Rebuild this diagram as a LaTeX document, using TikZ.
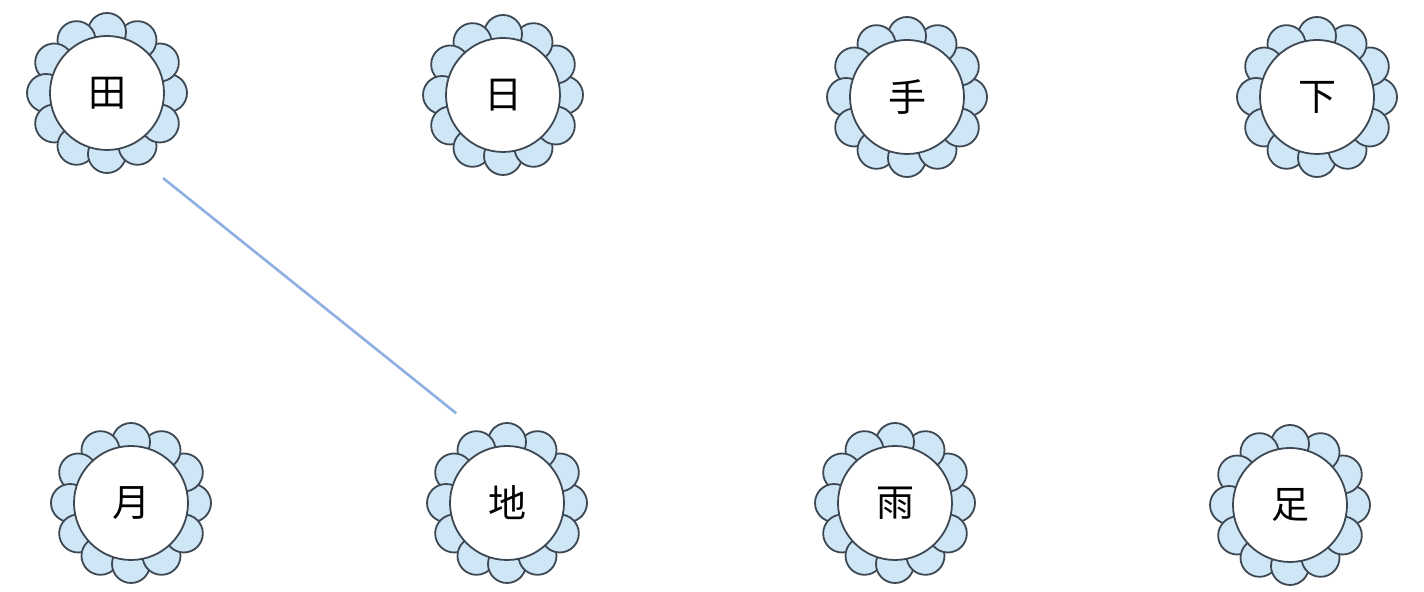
\documentclass[tikz,border=0pt]{standalone}
\usepackage{fontspec}
\usepackage{tikz}
\newfontfamily\cjk{Noto Sans CJK SC}
\usetikzlibrary{positioning}
\definecolor{petalblue}{RGB}{206,230,246}
\definecolor{petaledge}{RGB}{62,72,82}
\definecolor{linkblue}{RGB}{140,176,226}

\tikzset{
  petal/.style={fill=petalblue, draw=petaledge, line width=0.9pt},
  heart/.style={circle, fill=white, draw=petaledge, line width=0.9pt, minimum size=57pt,
                inner sep=0pt, font=\cjk\fontsize{19}{19}\selectfont},
  link/.style={draw=linkblue, line width=1.3pt}
}

\begin{document}
\begin{tikzpicture}[x=0.5pt, y=0.5pt]
            \useasboundingbox (0,0) rectangle (1424,592);
            % flowers: name / x / y (from top) / character
            \foreach \name/\px/\py/\zi in {tian/107/93/田, ri/503/95/日, shou/907/97/手, xia/1317/97/下,
                                          yue/131/503/月, di/507/503/地, yu/895/503/雨, zu/1290/505/足} {
                \foreach \a in {0,30,...,330}
                    \draw[petal] ({\px+61*cos(\a)}, {592-\py+61*sin(\a)}) circle (19);
                \node[heart] (\name) at ({\px}, {592-\py}) {\zi};
            }
            % the one link already drawn
            \coordinate (linkA) at ([shift={(-56.6:102)}]tian.center);
            \coordinate (linkB) at ([shift={(119.5:103)}]di.center);
            \draw[link] (linkA) -- (linkB);
        \end{tikzpicture}
\end{document}
